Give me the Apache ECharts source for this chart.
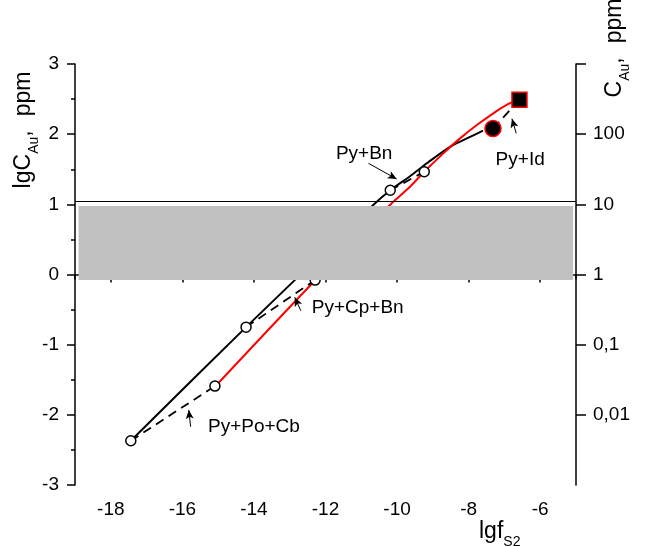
<!DOCTYPE html>
<html><head><meta charset="utf-8">
<script src="https://cdn.jsdelivr.net/npm/echarts@6/dist/echarts.min.js"></script>
<style>html,body{margin:0;padding:0;background:#fff}#c{width:646px;height:546px}</style>
</head><body><div id="c"></div>
<script>
// ---- data ----
const xTickLabels = [-18, -16, -14, -12, -10, -8, -6];
const xMinorTicks = [-19, -17, -15, -13, -11, -9, -7, -5];
const leftTicks = [-3, -2, -1, 0, 1, 2, 3];
const rightTickVals = [-2, -1, 0, 1, 2];
const rightTickLabels = ['0,01', '0,1', '1', '10', '100'];

const blackSolid = [[-17.44,-2.37],[-14.22,-0.75],[-10.71,0.97],[-10.19,1.20],[-9.64,1.40],[-9.17,1.585],[-8.52,1.82],[-7.96,1.96],[-7.60,2.05]];
const redSolid = [[-15.09,-1.60],[-12.32,-0.10],[-10.24,0.97],[-9.64,1.25],[-9.24,1.465],[-8.70,1.73],[-8.24,1.94],[-7.77,2.13],[-7.30,2.30],[-6.93,2.42],[-6.65,2.49]];
const dashPoCb = [[-17.44,-2.37],[-15.09,-1.59]];
const dashCpBn = [[-14.22,-0.75],[-12.29,-0.08]];
const dashBn = [[-10.19,1.20],[-9.24,1.465]];
const dashId = [[-7.32,2.08],[-6.58,2.49]];
const openPoints = [[-17.44,-2.37],[-15.09,-1.59],[-14.22,-0.75],[-12.29,-0.08],[-10.19,1.20],[-9.24,1.465]];
const idCircle = [[-7.32,2.08]];
const idSquare = [[-6.58,2.49]];
const bandX = [-18.9, -5.08];
const bandY = [-0.08, 0.975];
const refLineY = 1.05;
const noteTexts = ['Py+Bn', 'Py+Id', 'Py+Cp+Bn', 'Py+Po+Cb'];
const notePos = [[-10.92,1.72],[-6.56,1.63],[-11.10,-0.48],[-14.0,-2.17]];
const arrowFrom = [[-10.80,1.585],[-6.67,2.01],[-12.69,-0.516],[-15.77,-2.17]];
const arrowTo = [[-10.01,1.36],[-6.79,2.22],[-12.86,-0.325],[-15.82,-1.93]];

// ---- chart ----
const FONT = "'Liberation Sans', Arial, sans-serif";
const chart = echarts.init(document.getElementById('c'), null, {renderer: 'canvas'});
const axisLine = {show: true, lineStyle: {color: '#000', width: 1.5}};
const dashed = d => ({type: 'line', data: d, symbol: 'none', z: 2, silent: true,
  lineStyle: {color: '#000', width: 1.8, type: [9, 6]}});
const titleRich = {
  a: {fontSize: 23, fontFamily: FONT, fill: '#000', lineHeight: 30, verticalAlign: 'bottom'},
  s: {fontSize: 14, fontFamily: FONT, fill: '#000', lineHeight: 30, verticalAlign: 'bottom', padding: [0,0,-6,0]},
  g: {width: 14, lineHeight: 30}
};

chart.setOption({
  animation: false,
  backgroundColor: '#fff',
  textStyle: {fontFamily: FONT},
  grid: {left: 75, right: 70, top: 64, bottom: 61, outerBoundsMode: 'none'},
  xAxis: [
    {type: 'value', min: -19, max: -5, position: 'bottom', axisLine: axisLine,
     splitLine: {show: false},
     axisTick: {customValues: xTickLabels, length: 8, lineStyle: {color: '#000', width: 1.5}},
     axisLabel: {customValues: xTickLabels, color: '#000', fontSize: 19, fontFamily: FONT, margin: 15}},
    {type: 'value', min: -19, max: -5, position: 'bottom', axisLine: {show: false},
     splitLine: {show: false},
     axisTick: {customValues: xMinorTicks, length: 5, lineStyle: {color: '#000', width: 1.5}},
     axisLabel: {show: false}}
  ],
  yAxis: [
    {type: 'value', min: -3, max: 3, interval: 1, position: 'left', axisLine: axisLine,
     splitLine: {show: false},
     axisTick: {length: 8, lineStyle: {color: '#000', width: 1.5}},
     minorTick: {show: true, splitNumber: 2, length: 4, lineStyle: {color: '#000', width: 1.5}},
     axisLabel: {customValues: leftTicks, color: '#000', fontSize: 19, fontFamily: FONT, margin: 16}},
    {type: 'value', min: -3, max: 3, interval: 1, position: 'right', axisLine: axisLine,
     splitLine: {show: false},
     axisTick: {customValues: [-2, -1, 0, 1, 2, 3], length: 10, lineStyle: {color: '#000', width: 1.5}},
     axisLabel: {customValues: rightTickVals, color: '#000', fontSize: 19, fontFamily: FONT, margin: 17,
       formatter: v => rightTickLabels[rightTickVals.indexOf(v)] || ''}}
  ],
  graphic: [
    {type: 'text', x: 20, y: 130, rotation: Math.PI / 2, z: 50,
     style: {text: '{a|lgC}{s|Au}{a|,}{g|}{a|ppm}', align: 'center', verticalAlign: 'middle', rich: titleRich}},
    {type: 'text', x: 611, y: 48, rotation: Math.PI / 2, z: 50,
     style: {text: '{a|C}{s|Au}{a|,}{g|}{a|ppm}', align: 'center', verticalAlign: 'middle', rich: titleRich}},
    {type: 'text', x: 479, y: 528, z: 50,
     style: {text: '{a|lgf}{s|S2}', align: 'left', verticalAlign: 'middle', rich: titleRich}}
  ],
  series: [
    {type: 'line', data: blackSolid, symbol: 'none', smooth: 0.25, z: 2, silent: true,
     lineStyle: {color: '#000', width: 2}},
    {type: 'line', data: redSolid, symbol: 'none', smooth: 0.25, z: 2, silent: true,
     lineStyle: {color: '#ff0000', width: 2}},
    dashed(dashPoCb), dashed(dashCpBn), dashed(dashBn), dashed(dashId),
    {type: 'scatter', data: openPoints, symbol: 'circle', symbolSize: 10, z: 3, silent: true,
     itemStyle: {color: '#fff', borderColor: '#000', borderWidth: 1.5, opacity: 1}},
    {type: 'scatter', data: idCircle, symbol: 'circle', symbolSize: 16, z: 3, silent: true,
     itemStyle: {color: '#000', borderColor: '#ff0000', borderWidth: 1.5, opacity: 1}},
    {type: 'scatter', data: idSquare, symbol: 'rect', symbolSize: 15, z: 3, silent: true,
     itemStyle: {color: '#000', borderColor: '#ff0000', borderWidth: 1.5, opacity: 1}},
    // grey band + reference line
    {type: 'line', data: [], z: 10, silent: true,
     markArea: {z: 10, silent: true, itemStyle: {color: '#c0c0c0', opacity: 1},
       data: [[{coord: [bandX[0], bandY[1]]}, {coord: [bandX[1], bandY[0]]}]]},
     markLine: {z: 10, silent: true, symbol: 'none', label: {show: false},
       lineStyle: {color: '#000', width: 1, type: 'solid'},
       data: [[{coord: [-19, refLineY]}, {coord: [-5, refLineY]}]]}},
    // annotations
    {type: 'scatter', z: 20, silent: true, symbolSize: 1, itemStyle: {color: 'rgba(0,0,0,0)', opacity: 1},
     data: noteTexts.map((t, i) => ({name: t, value: notePos[i]})),
     label: {show: true, position: 'inside', formatter: p => p.name, color: '#000', fontSize: 19, fontFamily: FONT},
     markLine: {z: 20, silent: true, symbol: ['none', 'arrow'], symbolSize: [6, 9], label: {show: false},
       lineStyle: {color: '#000', width: 1, type: 'solid'},
       data: arrowFrom.map((a, i) => [{coord: a}, {coord: arrowTo[i]}])}}
  ]
});
</script></body></html>
